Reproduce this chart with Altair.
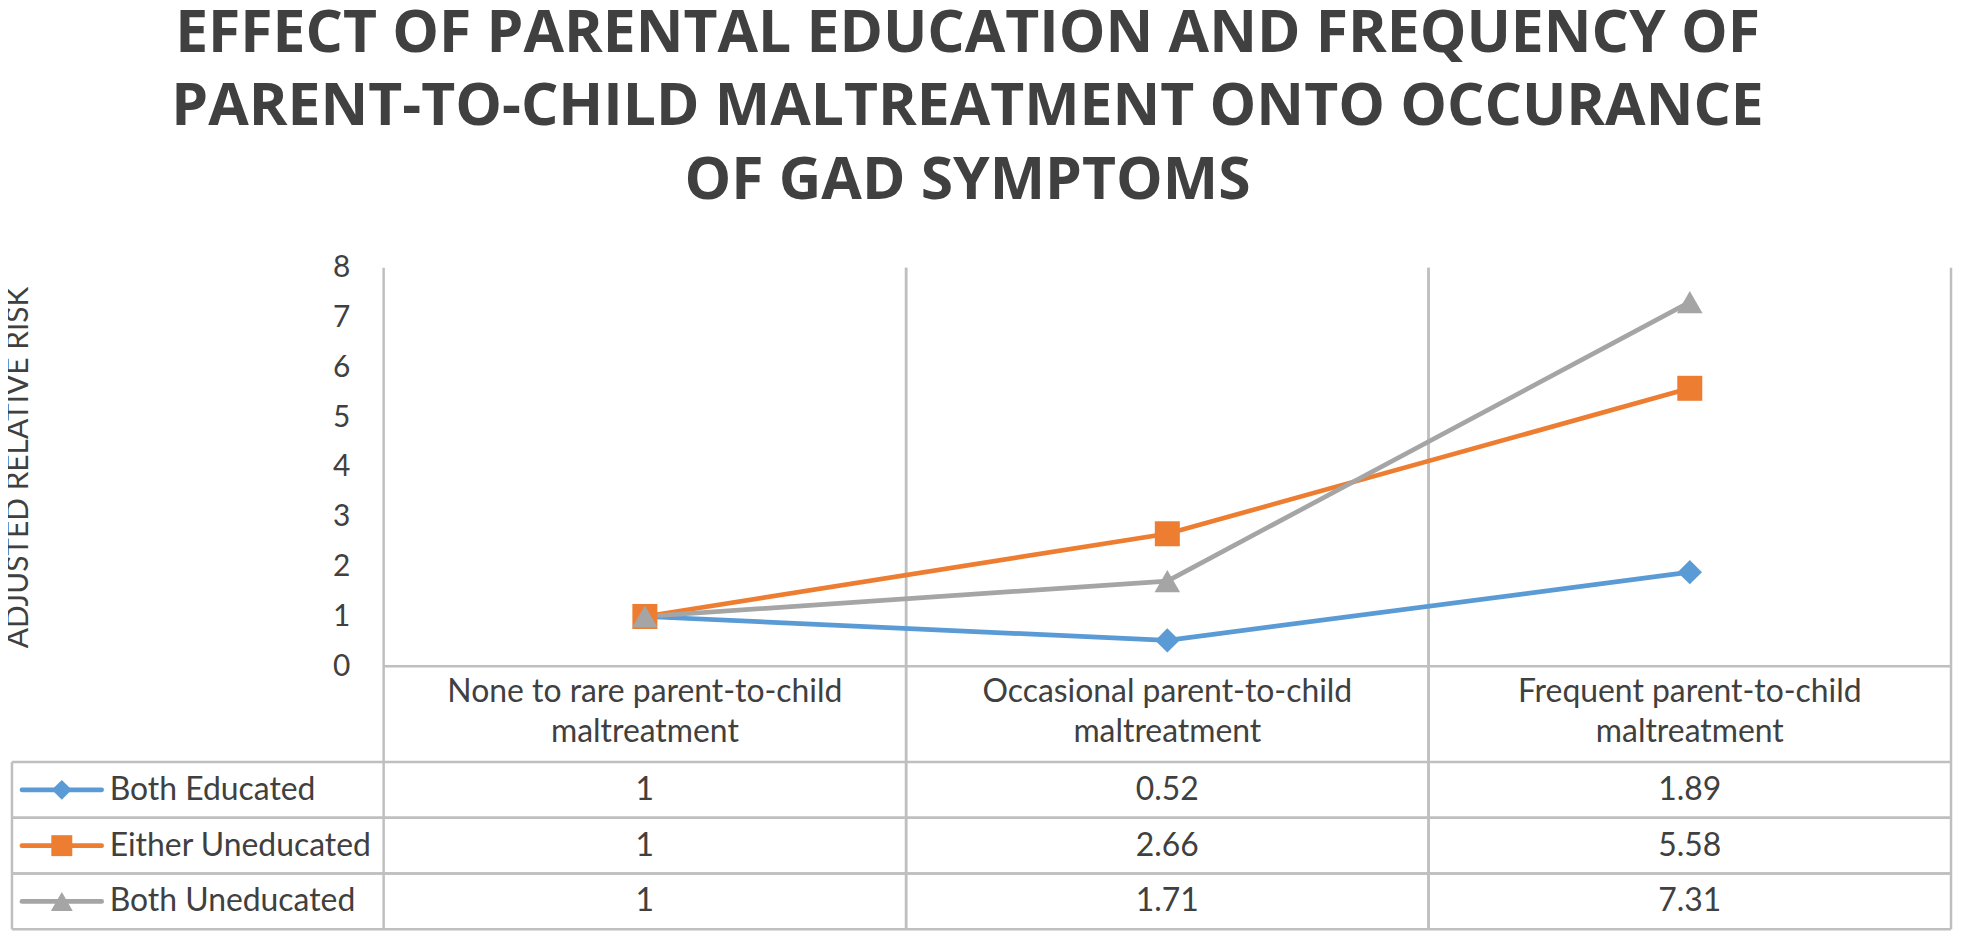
import altair as alt
import pandas as pd

# ---------------- data ----------------
categories = [
    "None to rare parent-to-child\nmaltreatment",
    "Occasional parent-to-child\nmaltreatment",
    "Frequent parent-to-child\nmaltreatment",
]
series_names = ["Both Educated", "Either Uneducated", "Both Uneducated"]
both_educated = [1, 0.52, 1.89]
either_uneducated = [1, 2.66, 5.58]
both_uneducated = [1, 1.71, 7.31]
y_ticks = [0, 1, 2, 3, 4, 5, 6, 7, 8]
title_lines = [
    "EFFECT OF PARENTAL EDUCATION AND FREQUENCY OF",
    "PARENT-TO-CHILD MALTREATMENT ONTO OCCURANCE",
    "OF GAD SYMPTOMS",
]
y_title = "ADJUSTED RELATIVE RISK"

# ---------------- styles ----------------
series_colors = ["#5B9BD5", "#ED7D31", "#A5A5A5"]
series_shapes = ["diamond", "square", "triangle-up"]
plot_sizes = [600, 660, 780]
legend_sizes = [400, 484, 540]
FONT = "Lato"
TEXT = "#404040"
GRID = "#BFBFBF"
FS = 32

W, H = 1946, 664          # whole drawing area (table included)
X0 = 373                  # left edge of category columns
Y_ZERO = 400              # pixel row of value 0
ROW_TOP = 496             # top of data-table rows

rows = []
for s, vals in zip(series_names, [both_educated, either_uneducated, both_uneducated]):
    for i, (c, v) in enumerate(zip(categories, vals)):
        rows.append({"series": s, "cat": c, "ci": i, "value": v, "label": f"{v:g}"})
df = pd.DataFrame(rows)
cat_df = pd.DataFrame({"cat": categories})
ser_df = pd.DataFrame({"series": series_names})
zero_df = pd.DataFrame({"value": [0]})

x_scale = alt.Scale(domain=categories, range=[X0, W], paddingInner=0, paddingOuter=0)
val_scale = alt.Scale(domain=[0, 8], range=[Y_ZERO, 0], nice=False)
row_scale = alt.Scale(domain=series_names, range=[ROW_TOP, H], paddingInner=0, paddingOuter=0)
color_scale = alt.Scale(domain=series_names, range=series_colors)
shape_scale = alt.Scale(domain=series_names, range=series_shapes)

X = lambda **kw: alt.X("cat:N", scale=x_scale, axis=None, **kw)

grid_a = alt.Chart(cat_df).mark_rule(color=GRID, strokeWidth=2.5).encode(
    x=X(bandPosition=0), y=alt.value(0), y2=alt.value(H))
grid_b = alt.Chart(cat_df).mark_rule(color=GRID, strokeWidth=2.5).encode(
    x=X(bandPosition=1), y=alt.value(0), y2=alt.value(H))

row_a = alt.Chart(ser_df).mark_rule(color=GRID, strokeWidth=2.5).encode(
    y=alt.Y("series:N", scale=row_scale, axis=None, bandPosition=0),
    x=alt.value(0), x2=alt.value(W))
row_b = alt.Chart(ser_df).mark_rule(color=GRID, strokeWidth=2.5).encode(
    y=alt.Y("series:N", scale=row_scale, axis=None, bandPosition=1),
    x=alt.value(0), x2=alt.value(W))
left_border = alt.Chart(zero_df).mark_rule(color=GRID, strokeWidth=2.5).encode(
    x=alt.value(0), y=alt.value(ROW_TOP), y2=alt.value(H))
zero_line = alt.Chart(zero_df).mark_rule(color=GRID, strokeWidth=2.5).encode(
    y=alt.Y("value:Q", scale=val_scale, axis=None),
    x=alt.value(X0), x2=alt.value(W))

lines = alt.Chart(df).mark_line(strokeWidth=4.7, strokeCap="round", strokeJoin="round").encode(
    x=X(),
    y=alt.Y(
        "value:Q", scale=val_scale, title=y_title,
        axis=alt.Axis(
            values=y_ticks, offset=-X0, domain=False, ticks=False, tickSize=0, grid=False,
            labelPadding=34, labelFont=FONT, labelFontSize=FS - 2, labelColor=TEXT,
            titleFont=FONT, titleFontSize=30, titleFontWeight="normal", titleColor=TEXT,
            titleAngle=270, titleX=-366, titleY=200, titleAlign="center", titleBaseline="middle",
        ),
    ),
    color=alt.Color("series:N", scale=color_scale, legend=None),
    order=alt.Order("ci:Q"),
)

points = alt.Chart(df).mark_point(filled=True, opacity=1).encode(
    x=X(),
    y=alt.Y("value:Q", scale=val_scale, axis=None),
    color=alt.Color("series:N", scale=color_scale, legend=None),
    shape=alt.Shape("series:N", scale=shape_scale, legend=None),
    size=alt.Size("series:N", scale=alt.Scale(domain=series_names, range=plot_sizes), legend=None),
)

header = alt.Chart(cat_df).mark_text(
    font=FONT, fontSize=FS, color=TEXT, lineBreak="\n", lineHeight=40,
    align="center", baseline="alphabetic",
).encode(x=X(), y=alt.value(436), text="cat:N")

cells = alt.Chart(df).mark_text(
    font=FONT, fontSize=FS, color=TEXT, align="center", baseline="middle",
).encode(
    x=X(),
    y=alt.Y("series:N", scale=row_scale, axis=None),
    text="label:N",
)

leg_line = alt.Chart(ser_df).mark_rule(strokeWidth=4.7, strokeCap="round").encode(
    y=alt.Y("series:N", scale=row_scale, axis=None, bandPosition=0.5),
    x=alt.value(10), x2=alt.value(90),
    color=alt.Color("series:N", scale=color_scale, legend=None),
)
leg_pt = alt.Chart(ser_df).mark_point(filled=True, opacity=1).encode(
    y=alt.Y("series:N", scale=row_scale, axis=None),
    x=alt.value(50),
    color=alt.Color("series:N", scale=color_scale, legend=None),
    shape=alt.Shape("series:N", scale=shape_scale, legend=None),
    size=alt.Size("series:N", scale=alt.Scale(domain=series_names, range=legend_sizes), legend=None),
)
leg_txt = alt.Chart(ser_df).mark_text(
    font=FONT, fontSize=FS, color=TEXT, align="left", baseline="middle",
).encode(
    y=alt.Y("series:N", scale=row_scale, axis=None),
    x=alt.value(98),
    text="series:N",
)

chart = alt.layer(
    grid_a, grid_b, row_a, row_b, left_border, zero_line,
    lines, points, header, cells, leg_line, leg_pt, leg_txt,
).resolve_scale(
    y="independent", size="independent"
).properties(
    width=W, height=H,
    title=alt.TitleParams(
        text=title_lines, font="Open Sans", fontSize=59, fontWeight="bold", color=TEXT,
        anchor="middle", lineHeight=74, dx=-14, offset=42,
    ),
    padding={"left": 4, "top": 259, "right": 2, "bottom": 1},
    autosize=alt.AutoSizeParams(type="none"),
).configure_view(stroke=None)

chart.save("out.html", embed_options={"renderer": "svg", "actions": False})
